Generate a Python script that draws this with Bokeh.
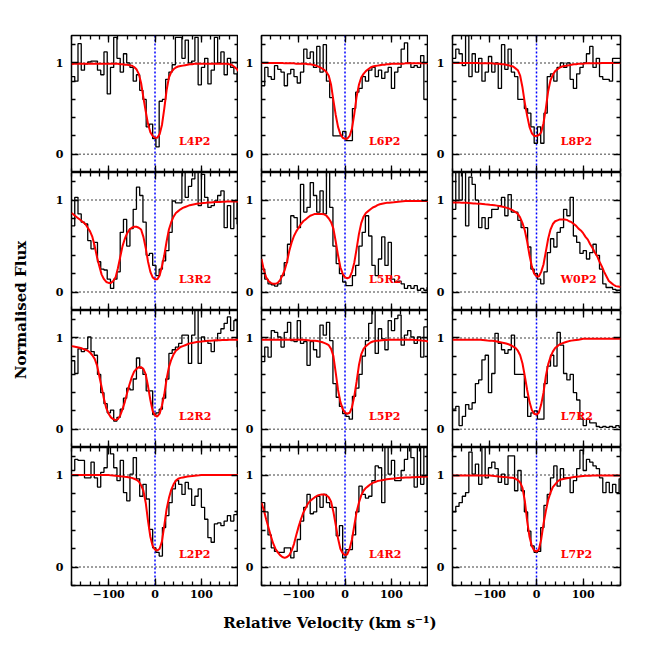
import numpy as np
from bokeh.plotting import figure
from bokeh.models import LinearAxis, FixedTicker, Span, Label, Range1d, Grid
from bokeh.layouts import column, row
from bokeh.embed import file_html
from bokeh.resources import INLINE

V_MIN, V_MAX = -180.0, 180.0
Y_MIN, Y_MAX = -0.2, 1.3
BIN = 7.0
MODEL_DV = 5.0

PANEL_NAMES = [["L4P2", "L6P2", "L8P2"],
               ["L3R2", "L5R2", "W0P2"],
               ["L2R2", "L5P2", "L7R2"],
               ["L2P2", "L4R2", "L7P2"]]
X_TICKS = [-100, 0, 100]
X_MINOR = list(range(-180, 181, 20))
X_TICK_LABELS = {-100: "\u2212100", 0: "0", 100: "100"}
Y_TICKS = [0, 1]
Y_MINOR = [-0.2, 0.2, 0.4, 0.6, 0.8, 1.2]
X_TITLE = "Relative Velocity (km s\u207b\u00b9)"
Y_TITLE = "Normalised Flux"

# ---- observed normalised flux, 7 km/s bins starting at -180 km/s ----
FLUX_L4P2 = [0.85, 0.80, 1.21, 0.92, 0.99, 1.01, 1.02, 1.02, 0.92, 0.87,
             1.12, 0.66, 0.95, 1.28, 1.05, 0.90, 1.10, 1.00, 0.95, 0.80,
             0.87, 0.70, 0.60, 0.30, 0.33, 0.17, 0.08, 0.58, 0.60, 0.82,
             0.90, 0.98, 1.28, 1.28, 1.05, 1.25, 1.00, 1.02, 1.28, 0.76,
             0.95, 1.05, 0.77, 0.92, 1.28, 1.00, 1.12, 0.87, 1.05, 0.95,
             0.88, 0.80]
FLUX_L6P2 = [0.75, 0.95, 0.85, 0.82, 0.97, 0.93, 0.90, 0.75, 0.88, 0.93,
             0.85, 0.78, 0.90, 1.15, 1.05, 1.12, 0.95, 1.18, 0.90, 1.20,
             0.80, 0.62, 0.20, 0.20, 0.20, 0.25, 0.15, 0.15, 0.50, 0.68,
             0.72, 0.85, 0.80, 0.92, 0.95, 0.85, 0.92, 0.83, 0.90, 0.95,
             0.72, 0.90, 0.95, 1.15, 1.22, 1.00, 0.95, 0.97, 0.95, 1.08,
             0.60, 0.60]
FLUX_L8P2 = [1.05, 1.15, 1.10, 0.97, 1.30, 0.85, 1.10, 0.90, 1.05, 0.80,
             0.90, 1.07, 0.90, 1.00, 0.72, 1.20, 0.93, 1.15, 0.90, 0.85,
             0.60, 0.60, 0.50, 0.45, 0.30, 0.12, 0.30, 0.12, 0.45, 0.85,
             0.88, 0.80, 0.95, 1.00, 0.95, 1.00, 0.82, 0.72, 0.88, 0.95,
             1.00, 1.10, 1.18, 0.95, 1.05, 0.85, 0.82, 0.82, 0.80, 1.05,
             1.05, 1.05]
FLUX_L3R2 = [0.72, 1.03, 0.85, 0.76, 0.74, 0.56, 0.47, 0.54, 0.33, 0.25,
             0.24, 0.14, 0.04, 0.14, 0.22, 0.65, 0.79, 0.50, 0.69, 0.90,
             1.14, 1.05, 0.76, 0.40, 0.42, 0.29, 0.18, 0.25, 0.34, 0.45,
             0.65, 0.99, 0.97, 0.97, 1.35, 1.03, 1.15, 1.23, 1.35, 0.94,
             1.28, 1.03, 0.92, 0.94, 0.99, 1.05, 1.10, 0.70, 0.94, 0.69,
             0.99, 0.74]
FLUX_L5R2 = [0.25, 0.14, 0.09, 0.08, 0.065, 0.09, 0.18, 0.32, 0.52, 0.83,
             0.81, 0.70, 1.17, 0.87, 0.92, 1.19, 1.05, 0.87, 1.10, 0.85,
             1.35, 0.92, 0.50, 0.31, 0.20, 0.11, 0.07, 0.07, 0.18, 0.29,
             0.50, 0.65, 0.83, 0.61, 0.29, 0.18, 0.36, 0.60, 0.29, 0.54,
             0.14, 0.11, 0.12, 0.09, 0.04, 0.07, 0.04, 0.07, 0.02, 0.04,
             0.02, 0.05]
FLUX_W0P2 = [0.90, 1.35, 1.00, 1.35, 0.72, 1.25, 1.17, 1.00, 0.70, 0.81,
             0.69, 0.81, 0.90, 0.90, 0.94, 1.03, 0.83, 1.06, 0.87, 0.87,
             0.78, 0.70, 0.70, 0.49, 0.25, 0.20, 0.14, 0.09, 0.22, 0.43,
             0.58, 0.49, 0.65, 0.70, 0.90, 0.83, 1.03, 0.61, 0.54, 0.42,
             0.45, 0.36, 0.43, 0.52, 0.40, 0.25, 0.09, 0.05, 0.05, 0.03,
             0.02, 0.02]
FLUX_L2R2 = [0.75, 0.61, 0.88, 0.85, 0.88, 1.01, 0.85, 0.81, 0.60, 0.40,
             0.28, 0.18, 0.21, 0.09, 0.13, 0.22, 0.34, 0.45, 0.43, 0.55,
             0.78, 0.67, 0.60, 0.42, 0.42, 0.16, 0.18, 0.22, 0.34, 0.55,
             0.83, 0.87, 0.90, 0.94, 1.03, 1.03, 0.72, 1.03, 1.35, 0.72,
             1.01, 0.97, 0.94, 0.85, 0.97, 1.05, 1.10, 1.16, 1.23, 1.08,
             1.19, 0.90]
FLUX_L5P2 = [0.74, 0.90, 0.79, 1.08, 1.06, 1.01, 0.90, 1.06, 1.17, 0.97,
             0.96, 1.19, 0.94, 0.96, 0.70, 0.96, 0.87, 0.79, 1.14, 1.03,
             1.17, 0.97, 0.50, 0.35, 0.25, 0.17, 0.14, 0.11, 0.36, 0.45,
             0.60, 0.80, 0.97, 1.16, 1.35, 0.83, 1.10, 0.99, 0.87, 1.19,
             1.08, 1.21, 1.25, 0.92, 1.03, 1.08, 1.01, 0.94, 1.01, 0.79,
             1.12, 1.12]
FLUX_L7R2 = [0.22, 0.25, 0.04, 0.14, 0.27, 0.22, 0.29, 0.50, 0.54, 0.76,
             0.81, 0.40, 0.61, 1.05, 0.94, 0.87, 0.83, 0.87, 1.03, 0.60,
             0.60, 0.60, 0.35, 0.14, 0.18, 0.20, 0.11, 0.11, 0.50, 0.69,
             0.81, 0.69, 1.06, 0.92, 0.61, 0.54, 0.60, 0.40, 0.32, 0.11,
             0.04, 0.11, 0.07, 0.07, 0.03, 0.02, 0.03, 0.02, 0.03, 0.02,
             0.04, 0.02]
FLUX_L2P2 = [1.05, 1.17, 1.16, 1.16, 0.97, 0.97, 1.14, 0.97, 0.87, 1.03,
             1.08, 1.35, 1.23, 1.08, 0.94, 1.16, 0.81, 0.72, 1.01, 1.19,
             0.96, 0.77, 0.90, 0.74, 0.41, 0.21, 0.16, 0.12, 0.43, 0.56,
             0.70, 0.85, 0.94, 0.90, 0.79, 0.92, 0.85, 0.67, 0.77, 0.85,
             0.65, 0.52, 0.32, 0.27, 0.47, 0.48, 0.45, 0.50, 0.56, 0.50,
             0.57, 0.61]
FLUX_L4R2 = [0.70, 0.60, 0.35, 0.21, 0.17, 0.16, 0.16, 0.21, 0.21, 0.10,
             0.17, 0.30, 0.50, 0.65, 0.79, 0.58, 0.60, 0.77, 0.65, 0.79,
             0.70, 0.65, 0.65, 0.34, 0.45, 0.10, 0.19, 0.19, 0.35, 0.60,
             0.88, 0.79, 0.75, 0.77, 0.94, 1.10, 1.08, 0.70, 1.35, 1.01,
             1.16, 0.94, 0.94, 1.05, 1.17, 1.35, 1.19, 0.87, 1.35, 0.90,
             1.35, 0.81]
FLUX_L7P2 = [0.60, 0.66, 0.70, 0.77, 0.81, 1.25, 1.01, 1.12, 0.90, 1.35,
             0.97, 1.08, 1.14, 1.07, 0.92, 1.01, 0.90, 1.21, 1.21, 0.83,
             1.05, 0.83, 0.60, 0.39, 0.23, 0.16, 0.17, 0.43, 0.67, 0.79,
             0.97, 1.10, 0.88, 1.07, 0.97, 0.97, 0.81, 0.94, 1.07, 1.27,
             1.05, 1.17, 1.14, 1.10, 1.07, 0.97, 0.81, 0.92, 0.81, 0.90,
             0.81, 0.96]

# ---- fitted model profiles, sampled every 5 km/s from -180 to +180 ----
MODEL_L4P2 = [0.985, 0.99, 0.99, 0.99,  0.99, 0.99, 0.99, 0.99,
              0.99, 0.99, 0.99, 0.99,   0.99, 0.99, 0.99, 0.99,
              0.99, 0.99, 0.99, 0.99,   0.99, 0.985, 0.985, 0.98,
              0.98, 0.975, 0.97, 0.955, 0.93, 0.88, 0.78, 0.62,
              0.47, 0.33, 0.24, 0.20,   0.18, 0.18, 0.22, 0.32,
              0.50, 0.70, 0.84, 0.90,   0.93, 0.95, 0.96, 0.965,
              0.97, 0.975, 0.98, 0.985, 0.985, 0.99, 0.99, 0.99,
              0.99, 0.99, 0.99, 0.99,   0.99, 0.99, 0.99, 0.99,
              0.99, 0.99, 0.99, 0.99,   0.985, 0.98, 0.96, 0.94,
              0.91]
MODEL_L6P2 = [1.0, 1.0, 1.0, 1.0,       1.0, 1.0, 1.0, 1.0,
              1.0, 1.0, 0.995, 0.995,   0.995, 0.995, 0.995, 0.99,
              0.99, 0.99, 0.99, 0.99,   0.985, 0.985, 0.98, 0.975,
              0.965, 0.955, 0.94, 0.925, 0.90, 0.86, 0.76, 0.59,
              0.43, 0.30, 0.22, 0.18,   0.17, 0.17, 0.20, 0.28,
              0.44, 0.63, 0.76, 0.84,   0.88, 0.91, 0.93, 0.95,
              0.96, 0.965, 0.97, 0.975, 0.98, 0.98, 0.985, 0.985,
              0.99, 0.99, 0.99, 0.99,   0.99, 0.99, 0.995, 0.995,
              0.995, 0.995, 0.995, 0.995, 0.995, 0.995, 0.995, 0.995,
              0.995]
MODEL_L8P2 = [1.0, 1.0, 1.0, 1.0,       1.0, 1.0, 1.0, 1.0,
              1.0, 1.0, 1.0, 1.0,       0.995, 0.995, 0.995, 0.995,
              0.995, 0.995, 0.99, 0.99, 0.99, 0.985, 0.985, 0.98,
              0.975, 0.965, 0.96, 0.94, 0.92, 0.86, 0.73, 0.56,
              0.42, 0.30, 0.23, 0.20,   0.20, 0.21, 0.24, 0.34,
              0.50, 0.69, 0.81, 0.87,   0.91, 0.93, 0.95, 0.96,
              0.965, 0.97, 0.975, 0.98, 0.985, 0.985, 0.99, 0.99,
              0.99, 0.995, 0.995, 0.995, 0.995, 0.995, 0.995, 0.995,
              1.0, 1.0, 1.0, 1.0,       1.0, 1.0, 1.0, 1.0,
              1.0]
MODEL_L3R2 = [0.86, 0.84, 0.82, 0.80,   0.78, 0.76, 0.74, 0.70,
              0.66, 0.60, 0.50, 0.38,   0.28, 0.19, 0.14, 0.11,
              0.10, 0.10, 0.12, 0.16,   0.26, 0.38, 0.50, 0.58,
              0.64, 0.68, 0.70, 0.71,   0.71, 0.70, 0.68, 0.60,
              0.48, 0.33, 0.22, 0.16,   0.14, 0.14, 0.18, 0.28,
              0.40, 0.55, 0.68, 0.76,   0.82, 0.86, 0.88, 0.90,
              0.915, 0.925, 0.935, 0.945, 0.95, 0.955, 0.96, 0.963,
              0.965, 0.968, 0.97, 0.973, 0.975, 0.977, 0.978, 0.98,
              0.98, 0.982, 0.983, 0.984, 0.985, 0.985, 0.985, 0.985,
              0.985]
MODEL_L5R2 = [0.36, 0.24, 0.16, 0.12,   0.10, 0.09, 0.09, 0.10,
              0.13, 0.18, 0.24, 0.33,   0.45, 0.54, 0.61, 0.66,
              0.70, 0.74, 0.77, 0.79,   0.81, 0.83, 0.84, 0.85,
              0.85, 0.85, 0.85, 0.845,  0.83, 0.80, 0.76, 0.69,
              0.55, 0.40, 0.27, 0.20,   0.16, 0.15, 0.16, 0.22,
              0.32, 0.47, 0.63, 0.75,   0.82, 0.86, 0.88, 0.90,
              0.92, 0.93, 0.945, 0.955, 0.96, 0.965, 0.97, 0.972,
              0.975, 0.977, 0.98, 0.982, 0.985, 0.987, 0.99, 0.99,
              0.99, 0.99, 0.99, 0.99,   0.99, 0.99, 0.99, 0.99,
              0.99]
MODEL_W0P2 = [0.975, 0.975, 0.974, 0.973, 0.972, 0.971, 0.97, 0.968,
              0.966, 0.964, 0.962, 0.961, 0.96, 0.958, 0.955, 0.953,
              0.95, 0.948, 0.945, 0.94,  0.935, 0.93, 0.925, 0.918,
              0.91, 0.90, 0.885, 0.87,   0.85, 0.81, 0.75, 0.67,
              0.55, 0.40, 0.28, 0.20,    0.17, 0.17, 0.22, 0.30,
              0.44, 0.58, 0.68, 0.74,    0.77, 0.78, 0.79, 0.79,
              0.79, 0.785, 0.77, 0.76,   0.74, 0.72, 0.69, 0.67,
              0.64, 0.60, 0.57, 0.52,    0.48, 0.43, 0.39, 0.33,
              0.28, 0.22, 0.17, 0.12,    0.10, 0.08, 0.065, 0.06,
              0.055]
MODEL_L2R2 = [0.91, 0.905, 0.90, 0.895, 0.89, 0.88, 0.87, 0.86,
              0.84, 0.81, 0.77, 0.70,   0.58, 0.46, 0.33, 0.23,
              0.17, 0.13, 0.11, 0.10,   0.11, 0.15, 0.22, 0.30,
              0.40, 0.49, 0.57, 0.63,   0.66, 0.68, 0.68, 0.66,
              0.60, 0.47, 0.32, 0.20,   0.15, 0.14, 0.17, 0.26,
              0.38, 0.55, 0.68, 0.76,   0.82, 0.86, 0.88, 0.90,
              0.91, 0.92, 0.93, 0.94,   0.945, 0.95, 0.955, 0.958,
              0.96, 0.963, 0.965, 0.968, 0.97, 0.972, 0.973, 0.974,
              0.975, 0.976, 0.977, 0.978, 0.98, 0.98, 0.98, 0.98,
              0.98]
MODEL_L5P2 = [0.98, 0.98, 0.98, 0.98,   0.98, 0.98, 0.98, 0.98,
              0.98, 0.98, 0.98, 0.98,   0.98, 0.98, 0.98, 0.98,
              0.98, 0.98, 0.98, 0.978,  0.975, 0.972, 0.97, 0.968,
              0.965, 0.96, 0.955, 0.945, 0.935, 0.92, 0.88, 0.80,
              0.62, 0.43, 0.30, 0.22,   0.18, 0.17, 0.18, 0.24,
              0.36, 0.52, 0.70, 0.82,   0.88, 0.91, 0.93, 0.95,
              0.96, 0.965, 0.97, 0.972, 0.975, 0.977, 0.978, 0.98,
              0.98, 0.98, 0.98, 0.98,   0.98, 0.98, 0.98, 0.98,
              0.98, 0.98, 0.978, 0.976, 0.975, 0.972, 0.97, 0.965,
              0.96]
MODEL_L7R2 = [0.98, 0.98, 0.98, 0.98,   0.98, 0.98, 0.98, 0.98,
              0.98, 0.98, 0.98, 0.98,   0.98, 0.978, 0.975, 0.972,
              0.97, 0.968, 0.965, 0.96, 0.955, 0.95, 0.945, 0.938,
              0.93, 0.92, 0.905, 0.89,  0.86, 0.81, 0.72, 0.58,
              0.43, 0.30, 0.21, 0.17,   0.16, 0.18, 0.27, 0.40,
              0.58, 0.71, 0.79, 0.85,   0.89, 0.91, 0.93, 0.94,
              0.95, 0.958, 0.965, 0.97, 0.975, 0.978, 0.98, 0.985,
              0.99, 0.99, 0.99, 0.99,   0.99, 0.99, 0.99, 0.99,
              0.99, 0.99, 0.99, 0.99,   0.99, 0.99, 0.99, 0.99,
              0.99]
MODEL_L2P2 = [1.0, 1.0, 1.0, 1.0,       1.0, 1.0, 1.0, 1.0,
              1.0, 1.0, 1.0, 1.0,       1.0, 1.0, 1.0, 1.0,
              1.0, 0.997, 0.995, 0.992, 0.99, 0.987, 0.985, 0.982,
              0.98, 0.975, 0.97, 0.96,  0.95, 0.93, 0.89, 0.83,
              0.70, 0.50, 0.33, 0.23,   0.19, 0.18, 0.20, 0.28,
              0.45, 0.63, 0.75, 0.84,   0.90, 0.94, 0.96, 0.97,
              0.975, 0.98, 0.985, 0.988, 0.99, 0.993, 0.995, 0.997,
              1.0, 1.0, 1.0, 1.0,       1.0, 1.0, 1.0, 1.0,
              1.0, 1.0, 1.0, 1.0,       1.0, 1.0, 1.0, 1.0,
              1.0]
MODEL_L4R2 = [0.70, 0.62, 0.52, 0.43,   0.34, 0.26, 0.20, 0.16,
              0.13, 0.11, 0.10, 0.11,   0.13, 0.18, 0.25, 0.35,
              0.44, 0.52, 0.59, 0.64,   0.69, 0.72, 0.74, 0.76,
              0.775, 0.785, 0.79, 0.79, 0.78, 0.76, 0.71, 0.60,
              0.46, 0.31, 0.20, 0.15,   0.13, 0.14, 0.20, 0.30,
              0.45, 0.60, 0.70, 0.78,   0.83, 0.86, 0.88, 0.90,
              0.915, 0.925, 0.935, 0.94, 0.945, 0.95, 0.955, 0.958,
              0.96, 0.962, 0.965, 0.968, 0.97, 0.972, 0.973, 0.974,
              0.975, 0.976, 0.977, 0.978, 0.98, 0.981, 0.982, 0.984,
              0.985]
MODEL_L7P2 = [0.995, 0.995, 0.995, 0.995, 0.995, 0.995, 0.995, 0.995,
              0.995, 0.995, 0.995, 0.995, 0.995, 0.995, 0.995, 0.995,
              0.995, 0.993, 0.99, 0.988, 0.985, 0.983, 0.98, 0.978,
              0.975, 0.972, 0.97, 0.96,  0.945, 0.92, 0.86, 0.72,
              0.50, 0.33, 0.23, 0.18,    0.17, 0.19, 0.30, 0.47,
              0.61, 0.73, 0.81, 0.87,    0.90, 0.93, 0.95, 0.955,
              0.96, 0.965, 0.97, 0.975,  0.98, 0.983, 0.985, 0.988,
              0.99, 0.992, 0.993, 0.994, 0.995, 0.995, 0.995, 0.995,
              0.995, 0.995, 0.995, 0.995, 0.995, 0.995, 0.995, 0.995,
              0.995]

FLUX = {"L4P2": FLUX_L4P2, "L6P2": FLUX_L6P2, "L8P2": FLUX_L8P2,
        "L3R2": FLUX_L3R2, "L5R2": FLUX_L5R2, "W0P2": FLUX_W0P2,
        "L2R2": FLUX_L2R2, "L5P2": FLUX_L5P2, "L7R2": FLUX_L7R2,
        "L2P2": FLUX_L2P2, "L4R2": FLUX_L4R2, "L7P2": FLUX_L7P2}
MODEL = {"L4P2": MODEL_L4P2, "L6P2": MODEL_L6P2, "L8P2": MODEL_L8P2,
         "L3R2": MODEL_L3R2, "L5R2": MODEL_L5R2, "W0P2": MODEL_W0P2,
         "L2R2": MODEL_L2R2, "L5P2": MODEL_L5P2, "L7R2": MODEL_L7R2,
         "L2P2": MODEL_L2P2, "L4R2": MODEL_L4R2, "L7P2": MODEL_L7P2}

FONT = "DejaVu Serif"
LABEL_V, LABEL_F = 52, 0.14

YLAB_W = 48
COL_LEFT = [23, 23, 24]
COL_FW = [167, 167, 168]
COL_RIGHT = [0, 0, 12]
ROW_FH = [137, 138, 137, 138]
ROW_TOP = [35, 0, 0, 0]
ROW_BOTTOM = [0, 0, 0, 22]
MAJOR_LEN, MINOR_LEN = 7, 4


def tick_style(ax, tick_len):
    ax.axis_line_color = None
    ax.major_tick_in = MAJOR_LEN
    ax.major_tick_out = 0
    ax.minor_tick_in = tick_len
    ax.minor_tick_out = 0
    ax.major_tick_line_color = "black"
    ax.minor_tick_line_color = "black"
    ax.major_tick_line_width = 1.3
    ax.minor_tick_line_width = 1.3


def labelled_axis(ticks, minor, overrides=None, standoff=4):
    ax = LinearAxis(ticker=FixedTicker(ticks=ticks, minor_ticks=minor))
    tick_style(ax, MINOR_LEN)
    ax.major_label_text_font = FONT
    ax.major_label_text_font_style = "bold"
    ax.major_label_text_font_size = "11px"
    ax.major_label_text_color = "black"
    ax.major_label_standoff = standoff
    if overrides:
        ax.major_label_overrides = overrides
    return ax


def tick_only_axes(p, side, ticks, minor):
    # unlabelled sides: short ticks at every minor position, long ticks at major ones
    for positions, length in ((minor, MINOR_LEN), (ticks, MAJOR_LEN)):
        ax = LinearAxis(ticker=FixedTicker(ticks=[], minor_ticks=positions))
        tick_style(ax, length)
        ax.major_label_standoff = 0
        p.add_layout(ax, side)


def make_panel(r, c):
    name = PANEL_NAMES[r][c]
    p = figure(frame_width=COL_FW[c], frame_height=ROW_FH[r],
               x_range=Range1d(V_MIN, V_MAX), y_range=Range1d(Y_MIN, Y_MAX),
               x_axis_location=None, y_axis_location=None,
               toolbar_location=None, output_backend="svg")
    p.min_border = 0
    p.min_border_left = COL_LEFT[c]
    p.min_border_right = COL_RIGHT[c]
    p.min_border_top = ROW_TOP[r]
    p.min_border_bottom = ROW_BOTTOM[r]
    p.outline_line_color = "black"
    p.outline_line_width = 1.5
    p.background_fill_color = "white"
    p.border_fill_color = "white"

    if r == 3:
        p.add_layout(labelled_axis(X_TICKS, X_MINOR, X_TICK_LABELS, 4), "below")
    else:
        tick_only_axes(p, "below", X_TICKS, X_MINOR)
    tick_only_axes(p, "above", X_TICKS, X_MINOR)
    p.add_layout(labelled_axis(Y_TICKS, Y_MINOR, None, 8), "left")
    tick_only_axes(p, "right", Y_TICKS, Y_MINOR)

    for loc in (0, 1):
        p.add_layout(Span(location=loc, dimension="width", line_color="black",
                          line_dash="1 3", line_width=1.5, level="underlay"))
    p.add_layout(Span(location=0, dimension="height", line_color="#0000ff",
                      line_dash="2 2", line_width=1.5, level="underlay"))

    flux = FLUX[name]
    edges = V_MIN + BIN * np.arange(len(flux) + 1)
    p.step(x=edges, y=list(flux) + [flux[-1]], mode="after",
           line_color="black", line_width=1.3)
    model = MODEL[name]
    vgrid = V_MIN + MODEL_DV * np.arange(len(model))
    p.line(x=vgrid, y=model, line_color="red", line_width=2)

    p.add_layout(Label(x=LABEL_V, y=LABEL_F, text=name, text_color="red",
                       text_font=FONT, text_font_style="bold",
                       text_font_size="11px", text_align="left",
                       text_baseline="middle"))
    for g in p.select(type=Grid):
        g.visible = False
    return p


rows = []
for r in range(4):
    rows.append(row(*[make_panel(r, c) for c in range(3)]))
grid = column(*rows)

GRID_H = sum(ROW_FH) + sum(ROW_TOP) + sum(ROW_BOTTOM)
TOTAL_W = YLAB_W + sum(COL_LEFT) + sum(COL_FW) + sum(COL_RIGHT)


def blank_fig(w, h):
    f = figure(width=w, height=h, x_range=Range1d(0, 1), y_range=Range1d(0, 1),
               x_axis_location=None, y_axis_location=None,
               toolbar_location=None, output_backend="svg")
    f.min_border = 0
    f.outline_line_color = None
    for g in f.select(type=Grid):
        g.visible = False
    return f


ylab = blank_fig(YLAB_W, GRID_H)
ylab.add_layout(Label(x=20 / YLAB_W, y=(GRID_H - 309.5) / GRID_H, text=Y_TITLE,
                      angle=90, angle_units="deg", text_align="center",
                      text_baseline="middle", text_font=FONT,
                      text_font_style="bold", text_font_size="15px",
                      text_color="black"))

XLAB_H = 42
xlab = blank_fig(TOTAL_W, XLAB_H)
xlab.add_layout(Label(x=329.5 / TOTAL_W, y=(XLAB_H - (622 - GRID_H)) / XLAB_H, text=X_TITLE,
                      text_align="center", text_baseline="middle", text_font=FONT,
                      text_font_style="bold", text_font_size="15px",
                      text_color="black"))

layout = column(row(ylab, grid), xlab)

with open("out.html", "w") as fh:
    fh.write(file_html(layout, INLINE, title="Normalised flux"))
